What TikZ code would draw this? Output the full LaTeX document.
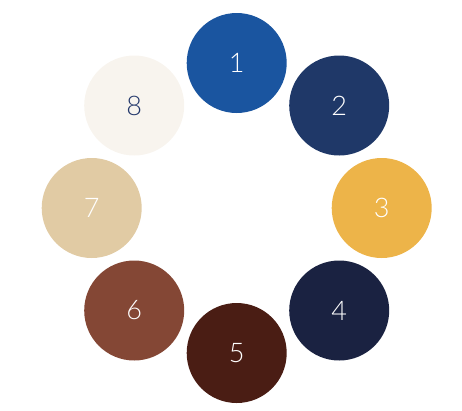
\documentclass[tikz,border=0pt]{standalone}
\usepackage{fontspec}
\setmainfont{Lato Light}
\usetikzlibrary{calc}
\definecolor{cA}{HTML}{1A55A0}
\definecolor{cB}{HTML}{1F3868}
\definecolor{cC}{HTML}{EDB449}
\definecolor{cD}{HTML}{1A2241}
\definecolor{cE}{HTML}{4A1D14}
\definecolor{cF}{HTML}{844735}
\definecolor{cG}{HTML}{E1CBA4}
\definecolor{cH}{HTML}{F8F4EE}
\definecolor{txtH}{HTML}{24386B}
\begin{document}
\begin{tikzpicture}[x=1pt,y=-1pt,
  dot/.style={circle,minimum size=100pt,inner sep=0pt,text=white,font=\fontsize{27}{30}\selectfont}]
\useasboundingbox (0,0) rectangle (462,410);
\coordinate (ctr) at (236.7,208);
\node[dot,fill=cA] (n1) at ($(ctr)+(0,-145)$) {1};
\node[dot,fill=cB] (n2) at ($(ctr)+(102.5,-102.5)$) {2};
\node[dot,fill=cC] (n3) at ($(ctr)+(145,0)$) {3};
\node[dot,fill=cD] (n4) at ($(ctr)+(102.5,102.5)$) {4};
\node[dot,fill=cE] (n5) at ($(ctr)+(0,145)$) {5};
\node[dot,fill=cF] (n6) at ($(ctr)+(-102.5,102.5)$) {6};
\node[dot,fill=cG] (n7) at ($(ctr)+(-145,0)$) {7};
\node[dot,fill=cH,text=txtH] (n8) at ($(ctr)+(-102.5,-102.5)$) {8};
\end{tikzpicture}
\end{document}
